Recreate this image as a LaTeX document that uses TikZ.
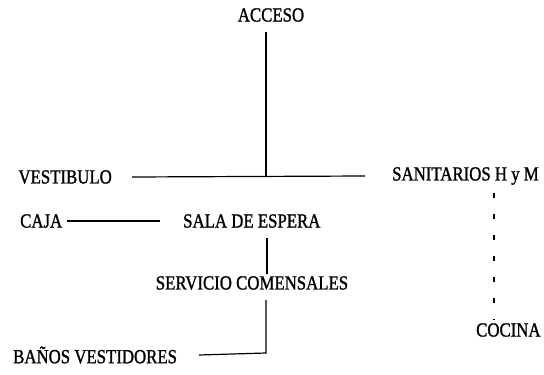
\documentclass[tikz,border=0pt]{standalone}
\usepackage{fontspec}
\setmainfont{Liberation Serif}[FakeStretch=0.84,FakeBold=1.2]
\begin{document}
\begin{tikzpicture}[x=1pt,y=-1pt,
  lbl/.style={inner sep=0pt,font=\fontsize{20}{22}\selectfont},
  conn/.style={line width=1.2pt}]
\useasboundingbox (0,0) rectangle (544,375);
\node[lbl] (acceso) at (271,15) {ACCESO};
\node[lbl,anchor=east] (vest) at (112,177) {VESTIBULO};
\node[lbl,anchor=west] (sani) at (392,176) {SANITARIOS H y M};
\node[lbl,anchor=west] (caja) at (20,221) {CAJA};
\node[lbl,anchor=west] (sala) at (183,221) {SALA DE ESPERA};
\node[lbl] (serv) at (252,283) {SERVICIO COMENSALES};
\node[lbl,anchor=west] (cocina) at (476,330) {COCINA};
\node[lbl,anchor=west] (banos) at (13,355) {BAÑOS VESTIDORES};
\coordinate (j1) at (266,177);
\coordinate (j2) at (266,353);
% connectors
\draw[conn] (j1 |- 0,32) -- (j1);
\draw[conn] (vest.east -| 132,0) -- (sani.west -| 365,0);
\draw[conn] (caja.east -| 67,0) -- (sala.west -| 160,0);
\draw[conn] (267,238) -- (267,274);
\draw[conn] (j2 |- 0,300) -- (j2) -- (banos.east -| 199,0);
\draw[conn,dash pattern=on 5pt off 16pt] (494,193) -- (494,320);
\end{tikzpicture}
\end{document}
